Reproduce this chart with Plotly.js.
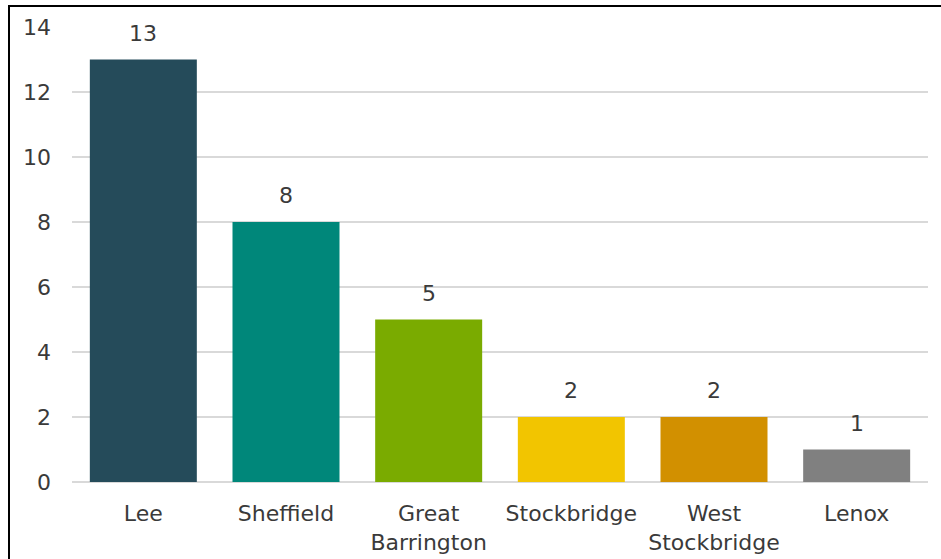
<!DOCTYPE html>
<html>
<head>
<meta charset="utf-8">
<script src="https://cdn.plot.ly/plotly-3.0.1.min.js"></script>
<style>
  html, body { margin: 0; padding: 0; background: #fff; }
  #frame { position: absolute; left: 8px; top: 5px; width: 940px; height: 560px;
           border-left: 2px solid #000; border-top: 2px solid #000; }
  #chart { position: absolute; left: 0; top: 0; width: 941px; height: 559px; }
</style>
</head>
<body>
<div id="frame"></div>
<div id="chart"></div>
<script>
const categories = ["Lee", "Sheffield", "Great<br>Barrington", "Stockbridge", "West<br>Stockbridge", "Lenox"];
const values = [13, 8, 5, 2, 2, 1];
const colors = ["#254B5A", "#00877A", "#7AAB00", "#F2C500", "#D29000", "#808080"];
const yTicks = [0, 2, 4, 6, 8, 10, 12, 14];

const font = { family: "DejaVu Sans, Verdana, sans-serif", size: 22, color: "#3A3A3A" };

const trace = {
  type: "bar",
  x: categories,
  y: values,
  marker: { color: colors, line: { width: 0 } },
  hoverinfo: "none"
};

const annotations = categories.map((c, i) => ({
  x: c, y: values[i], xref: "x", yref: "y",
  text: String(values[i]), showarrow: false,
  yanchor: "bottom", yshift: 12, font: font
}));

const layout = {
  width: 941, height: 559,
  margin: { l: 72, r: 13, t: 27, b: 77 },
  paper_bgcolor: "rgba(0,0,0,0)",
  plot_bgcolor: "rgba(0,0,0,0)",
  font: font,
  bargap: 0.25,
  showlegend: false,
  xaxis: {
    type: "category",
    showgrid: false, showline: false, zeroline: false,
    ticks: "", ticklabelstandoff: 16,
    tickfont: font
  },
  yaxis: {
    range: [0, 14],
    tickvals: yTicks,
    ticktext: yTicks.map(String),
    showgrid: true, gridcolor: "#D9D9D9", gridwidth: 1.5,
    zeroline: true, zerolinecolor: "#D9D9D9", zerolinewidth: 1.5,
    showline: false, ticks: "", ticklabelstandoff: 20,
    tickfont: font
  },
  annotations: annotations
};

Plotly.newPlot("chart", [trace], layout, { displayModeBar: false, staticPlot: true });
</script>
</body>
</html>
